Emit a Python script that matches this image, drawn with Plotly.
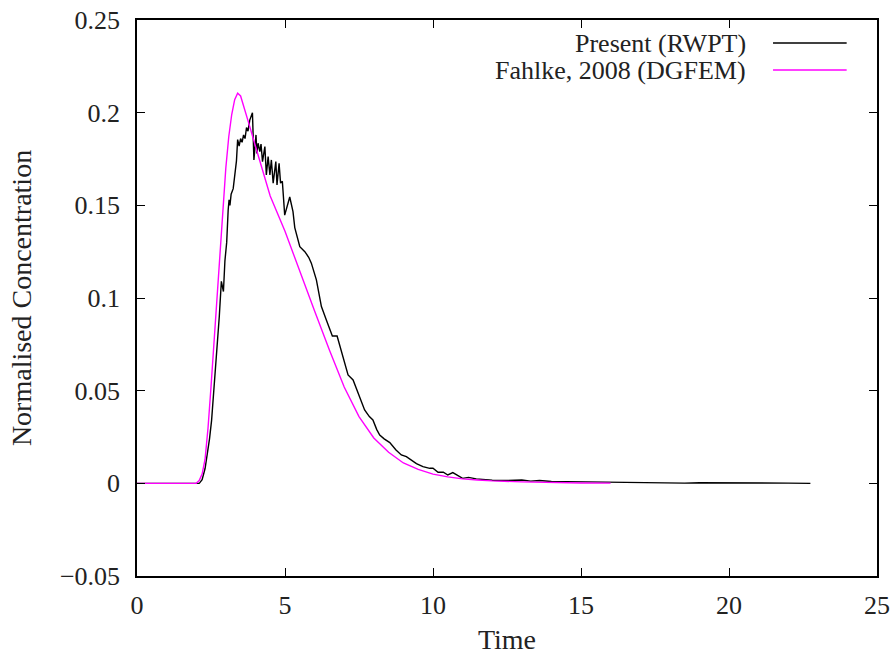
import plotly.graph_objects as go

# Breakthrough curve: random-walk particle tracking result
rwpt_time = [0.0, 1.0, 2.0, 2.1, 2.13, 2.2, 2.3, 2.35, 2.45, 2.52, 2.6, 2.69, 2.78, 2.85,
             2.92, 2.97, 3.03, 3.08, 3.11, 3.14, 3.18, 3.25, 3.31, 3.36, 3.4, 3.45, 3.5,
             3.55, 3.6, 3.65, 3.7, 3.75, 3.81, 3.87, 3.9, 3.95, 4.02, 4.05, 4.09, 4.15,
             4.19, 4.24, 4.32, 4.37, 4.43, 4.49, 4.54, 4.6, 4.69, 4.73, 4.8, 4.85, 4.91,
             4.99, 5.16, 5.27, 5.33, 5.5, 5.67, 5.8, 5.89, 6.06, 6.23, 6.4, 6.51, 6.6,
             6.76, 6.95, 7.13, 7.3, 7.5, 7.69, 7.85, 7.97, 8.1, 8.2, 8.35, 8.54, 8.75,
             8.93, 9.1, 9.25, 9.44, 9.66, 9.89, 10.0, 10.17, 10.35, 10.5, 10.67, 10.8,
             11.0, 11.2, 11.46, 12.0, 12.5, 13.0, 13.3, 13.6, 14.0, 14.5, 15.0, 15.5,
             16.0, 16.5, 17.0, 17.5, 18.0, 18.5, 19.0, 19.5, 20.0, 20.5, 21.0, 21.5,
             22.0, 22.75]
rwpt_conc = [0.0, 0.0, 0.0, 0.0, 0.0005, 0.002, 0.008, 0.0126, 0.024, 0.034, 0.05, 0.072,
             0.09, 0.109, 0.1035, 0.12, 0.13, 0.1475, 0.153, 0.15, 0.156, 0.159, 0.168,
             0.174, 0.1855, 0.182, 0.186, 0.184, 0.188, 0.186, 0.192, 0.19, 0.196, 0.199,
             0.2, 0.1745, 0.188, 0.178, 0.1835, 0.179, 0.183, 0.1736, 0.1817, 0.1664,
             0.1763, 0.1664, 0.1745, 0.162, 0.1736, 0.161, 0.1727, 0.162, 0.163, 0.1447,
             0.1545, 0.1466, 0.138, 0.1277, 0.125, 0.122, 0.1188, 0.1098, 0.0954, 0.088,
             0.0828, 0.0795, 0.0795, 0.068, 0.0585, 0.0558, 0.047, 0.0396, 0.036, 0.0342,
             0.029, 0.026, 0.024, 0.022, 0.018, 0.0153, 0.0144, 0.0125, 0.0106, 0.009,
             0.0081, 0.0081, 0.006, 0.006, 0.0045, 0.0058, 0.0045, 0.0027, 0.0032, 0.0024,
             0.0017, 0.0015, 0.0018, 0.0012, 0.0015, 0.001, 0.0009, 0.0008, 0.0007,
             0.0006, 0.0003, 0.0004, 0.0002, 0.0003, 0.0001, 0.0003, 0.0002, 0.0004,
             0.0002, 0.0001, 0.0002, 0.0001, 0.0]

# Reference solution (discontinuous Galerkin FEM)
dgfem_time = [0.0, 1.0, 2.0, 2.1, 2.2, 2.3, 2.4, 2.5, 2.6, 2.7, 2.8, 2.9, 3.0, 3.1, 3.2,
              3.3, 3.4, 3.5, 3.6, 3.8, 4.0, 4.2, 4.5, 5.0, 5.5, 6.0, 6.5, 7.0, 7.5, 8.0,
              8.5, 9.0, 9.5, 10.0, 10.5, 11.0, 11.5, 12.0, 13.0, 14.0, 15.0, 16.0]
dgfem_conc = [0.0, 0.0, 0.0, 0.0015, 0.005, 0.013, 0.03, 0.052, 0.076, 0.1, 0.125, 0.149,
              0.17, 0.187, 0.199, 0.207, 0.2105, 0.209, 0.204, 0.193, 0.182, 0.171, 0.155,
              0.136, 0.114, 0.093, 0.072, 0.052, 0.036, 0.0245, 0.0168, 0.011, 0.0075,
              0.005, 0.0035, 0.0024, 0.0018, 0.0013, 0.0008, 0.0004, 0.0002, 0.0001]

series_names = ["Present (RWPT)", "Fahlke, 2008 (DGFEM)"]
series_colors = ["#000000", "#ff00ff"]

x_ticks = [0, 5, 10, 15, 20, 25]
y_ticks = [-0.05, 0, 0.05, 0.1, 0.15, 0.2, 0.25]
y_tick_text = ["\u22120.05", "0", "0.05", "0.1", "0.15", "0.2", "0.25"]

FONT = "Liberation Serif"
TICK_SIZE = 26
TEXT_SIZE = 28
KEY_SIZE = 26
TXT = "#222222"

fig = go.Figure()
fig.add_trace(go.Scatter(x=rwpt_time, y=rwpt_conc, mode="lines", name=series_names[0],
                         line=dict(color=series_colors[0], width=1.4), showlegend=False))
fig.add_trace(go.Scatter(x=dgfem_time, y=dgfem_conc, mode="lines", name=series_names[1],
                         line=dict(color=series_colors[1], width=1.4), showlegend=False))

# gnuplot-style key: right-aligned label with the line sample to its right
key_rows = [0.9586, 0.910]
for name, color, ky in zip(series_names, series_colors, key_rows):
    fig.add_annotation(xref="paper", yref="paper", x=0.8257, y=ky, text=name,
                       showarrow=False, xanchor="right", yanchor="middle",
                       font=dict(family=FONT, size=KEY_SIZE, color=TXT))
    fig.add_shape(type="line", xref="paper", yref="paper", x0=0.8595, x1=0.959,
                  y0=ky, y1=ky, line=dict(color=color, width=1.4))

axis_common = dict(showgrid=False, zeroline=False, showline=True, linecolor="black",
                   linewidth=1.5, mirror="ticks", ticks="inside", ticklen=8,
                   tickwidth=1, tickcolor="black", automargin=False,
                   tickfont=dict(family=FONT, size=TICK_SIZE, color=TXT))

fig.update_xaxes(range=[0, 25], tickvals=x_ticks, ticktext=[str(v) for v in x_ticks],
                 ticklabelstandoff=5,
                 title=dict(text="Time", font=dict(family=FONT, size=TEXT_SIZE, color=TXT),
                            standoff=16),
                 **axis_common)
fig.update_yaxes(range=[-0.05, 0.25], tickvals=y_ticks, ticktext=y_tick_text,
                 ticklabelstandoff=10,
                 title=dict(text="Normalised Concentration",
                            font=dict(family=FONT, size=TEXT_SIZE, color=TXT), standoff=20),
                 **axis_common)

fig.update_layout(width=895, height=655, margin=dict(l=137, r=18, t=20, b=79),
                  plot_bgcolor="white", paper_bgcolor="white")

fig.write_html("out.html")
